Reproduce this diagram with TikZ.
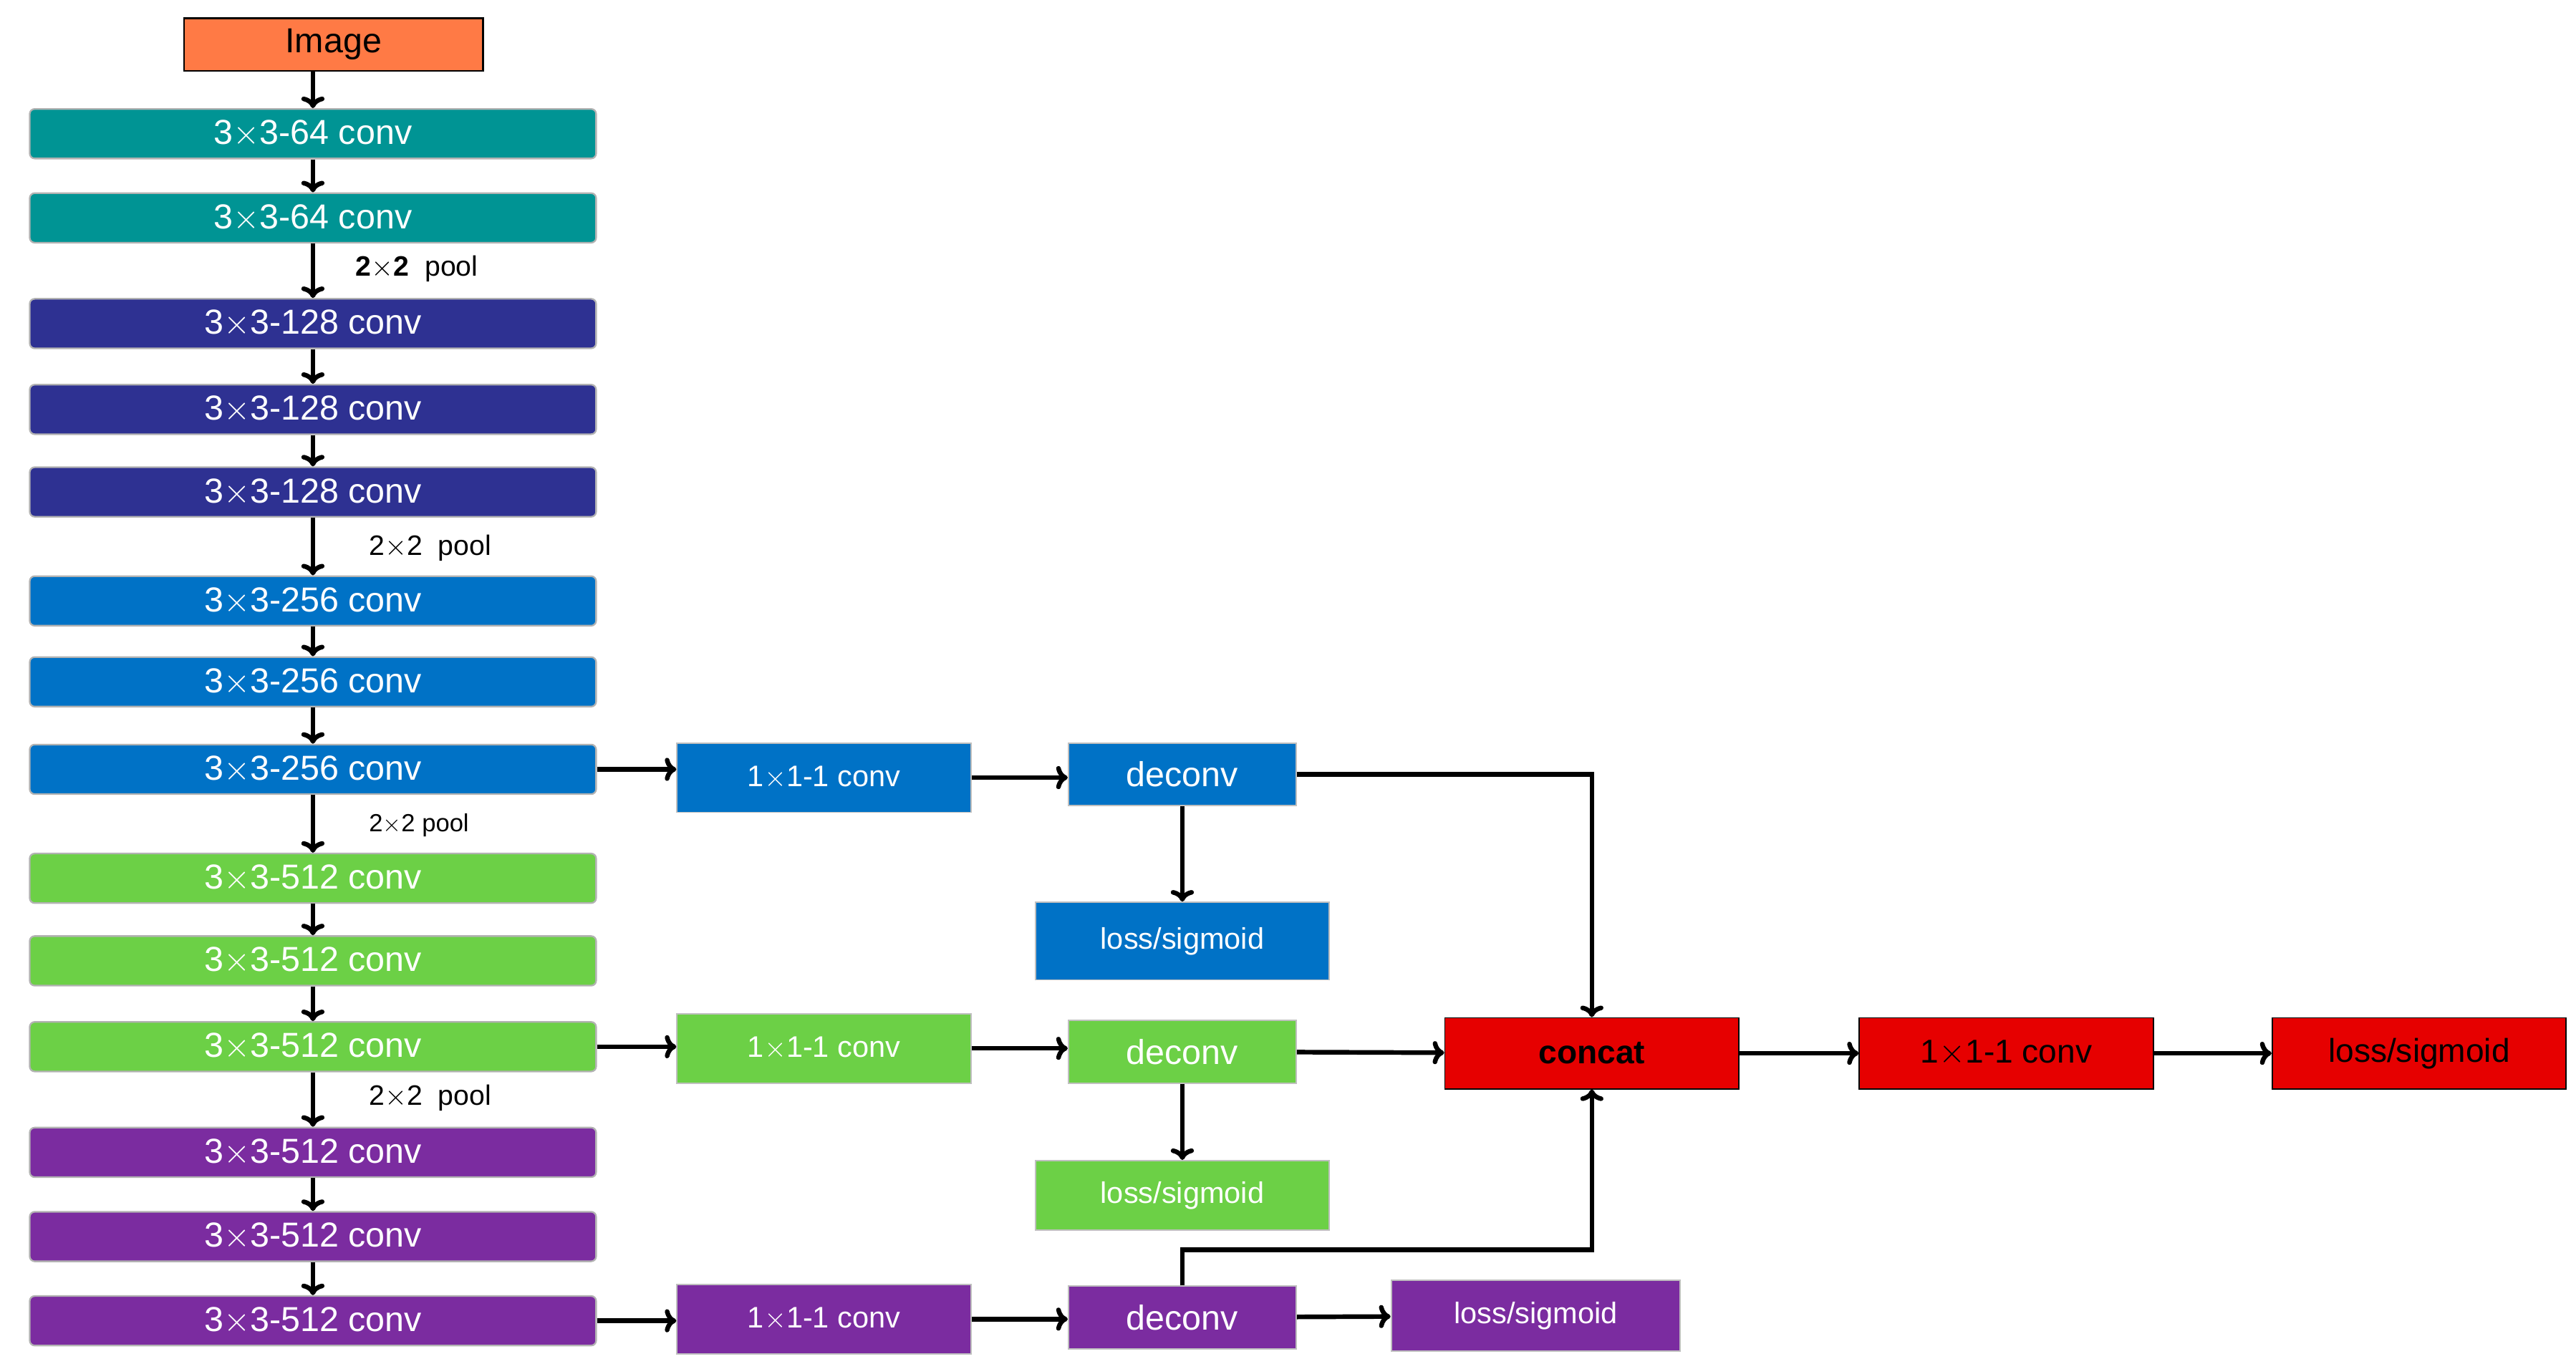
\documentclass[tikz,border=0pt]{standalone}
\usepackage{fontspec}
\setmainfont{Liberation Sans}
\usetikzlibrary{arrows.meta}
\definecolor{cteal}{HTML}{009494}
\definecolor{cdb}{HTML}{2E3192}
\definecolor{cbl}{HTML}{0072C6}
\definecolor{cgr}{HTML}{6CD046}
\definecolor{cpu}{HTML}{7B2CA0}
\definecolor{cred}{HTML}{E60000}
\definecolor{cor}{HTML}{FF7A45}
\begin{document}
\begin{tikzpicture}[x=1pt,y=-1pt,
 L/.style={draw=gray!60,line width=1pt,rounded corners=3pt,minimum width=343pt,minimum height=30pt,text=white,font=\fontsize{21}{21}\selectfont,inner sep=0pt},
 B/.style={draw=gray!50,line width=0.8pt,minimum width=178pt,minimum height=42pt,text=white,font=\fontsize{18}{18}\selectfont,inner sep=0pt},
 D/.style={draw=gray!50,line width=0.8pt,minimum width=138pt,minimum height=38pt,text=white,font=\fontsize{21}{21}\selectfont,inner sep=0pt},
 R/.style={draw=black,line width=0.8pt,fill=cred,minimum width=178pt,minimum height=43pt,text=black,font=\fontsize{20}{20}\selectfont,inner sep=0pt},
 a/.style={line width=2.8pt,-{To[length=7pt,width=14pt]}},
 P/.style={font=\fontsize{17}{17}\selectfont,anchor=west}]
\useasboundingbox (0,0) rectangle (1560,829);
\node[draw=black,line width=1pt,fill=cor,minimum width=181pt,minimum height=32pt,font=\fontsize{21}{21}\selectfont,inner sep=0pt] (img) at (202,27) {Image};
\foreach \n/\y/\c/\t in {1/81/cteal/64,2/132/cteal/64,3/196/cdb/128,4/248/cdb/128,5/298/cdb/128,6/364/cbl/256,7/413/cbl/256,8/466/cbl/256,9/532/cgr/512,10/582/cgr/512,11/634/cgr/512,12/698/cpu/512,13/749/cpu/512,14/800/cpu/512}
  \node[L,fill=\c] (l\n) at (189.5,\y) {3$\times$3-\t\ conv};
\draw[a] (189.5,43) -- (l1);
\foreach \i/\j in {1/2,2/3,3/4,4/5,5/6,6/7,7/8,8/9,9/10,10/11,11/12,12/13,13/14}
  \draw[a] (l\i.south -| 189.5,0) -- (l\j.north -| 189.5,0);
\node[P] at (212,163) {\textbf{2}$\times$\textbf{2}\ \ pool};
\node[P] at (220,332) {2$\times$2\ \ pool};
\node[P] at (220,500) {\fontsize{15}{15}\selectfont 2$\times$2 pool};
\node[P] at (220,665) {2$\times$2\ \ pool};
\node[B,fill=cbl] (c1) at (499,471) {1$\times$1-1 conv};
\node[B,fill=cgr] (c2) at (499,635) {1$\times$1-1 conv};
\node[B,fill=cpu] (c3) at (499,799) {1$\times$1-1 conv};
\node[D,fill=cbl] (d1) at (716,469) {deconv};
\node[D,fill=cgr] (d2) at (716,637) {deconv};
\node[D,fill=cpu] (d3) at (716,798) {deconv};
\node[B,fill=cbl,minimum height=47pt] (s1) at (716,570) {loss/sigmoid};
\node[B,fill=cgr] (s2) at (716,724) {loss/sigmoid};
\node[B,fill=cpu,minimum width=175pt,minimum height=43pt] (s3) at (930,797) {loss/sigmoid};
\node[R] (cc) at (964,638) {\textbf{concat}};
\node[R] (r1) at (1215,638) {1$\times$1-1 conv};
\node[R] (r2) at (1465,638) {loss/sigmoid};
\draw[a] (l8.east) -- (c1.west |- l8.east);
\draw[a] (l11.east) -- (c2.west |- l11.east);
\draw[a] (l14.east) -- (c3.west |- l14.east);
\draw[a] (c1.east) -- (d1.west |- c1.east);
\draw[a] (c2.east) -- (d2.west |- c2.east);
\draw[a] (c3.east) -- (d3.west |- c3.east);
\draw[a] (d1) -- (s1);
\draw[a] (d2) -- (s2);
\draw[a] (d3) -- (s3);
\draw[a] (d2) -- (cc);
\draw[a] (d1.east) -- (964,469) -- (cc.north);
\draw[a] (d3.north) -- (716,757) -- (964,757) -- (cc.south);
\draw[a] (cc) -- (r1);
\draw[a] (r1) -- (r2);
\end{tikzpicture}
\end{document}
